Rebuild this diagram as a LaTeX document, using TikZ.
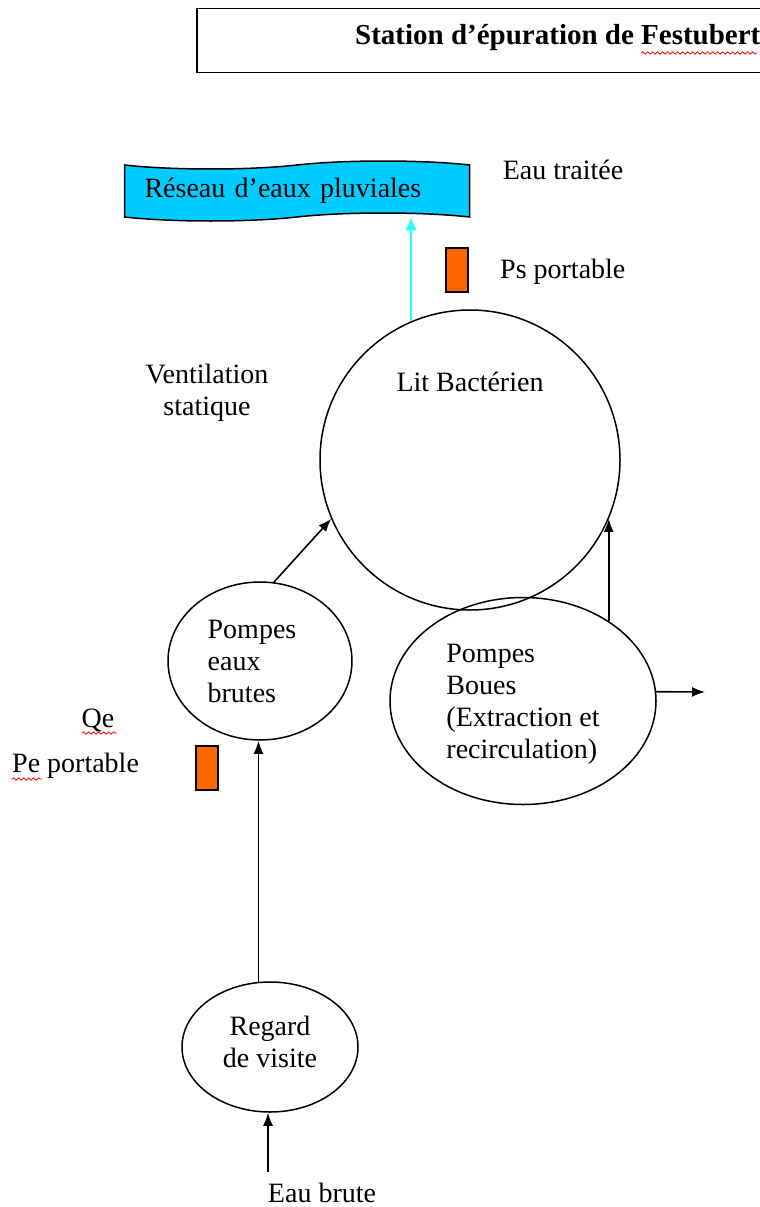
\documentclass[tikz,border=0pt]{standalone}
\usepackage{fontspec}
\setmainfont{Liberation Serif}
\usepackage{xcolor}
\usepackage{tikz}
\usetikzlibrary{arrows.meta, positioning, shapes.geometric, shapes.symbols, decorations.pathmorphing}
\definecolor{pluvial}{RGB}{0,204,255}
\definecolor{outflow}{RGB}{40,255,255}
\definecolor{sensor}{RGB}{255,102,0}

\begin{document}
\begin{tikzpicture}[x=1pt, y=-1pt,
  every node/.style={font=\fontsize{28}{32}\selectfont},
  every label/.style={font=\fontsize{28}{32}\selectfont, align=left, inner sep=0pt},
  flow/.style={-{Latex[length=13pt,width=10pt]}, line width=1.6pt},
  basin/.style={draw, ellipse, line width=1.5pt, inner sep=0pt, align=left},
  probe/.style={draw, fill=sensor, line width=1.5pt, minimum width=22pt, minimum height=44pt, inner sep=0pt},
  spell/.style={red, line width=0.8pt, decorate, decoration={snake, amplitude=1.2pt, segment length=5pt}}]
\clip (0,0) rectangle (760,1207);

% title
\draw (196,8) node[draw, line width=1.5pt, anchor=north west, minimum width=580pt, minimum height=64pt] (frame) {};
\draw (355,38) node[anchor=west, inner xsep=0pt, font=\fontsize{29}{32}\selectfont\bfseries] (title) {Station d’épuration de Festubert};
\draw[spell] (641,53) -- (757,53);

% rain water network
\draw (297,191) node[tape, draw, fill=pluvial, line width=1.5pt, minimum width=345pt, minimum height=60pt, tape bend height=8pt, text width=305pt, inner xsep=20pt, align=left] (reseau) {Réseau d’eaux pluviales};
\draw (563,170) node (traitee) {Eau traitée};
\draw (457,270) node[probe] (ps) {};
\draw (500,272) node[anchor=west, inner xsep=0pt] (pslabel) {Ps portable};

% biological filter
\draw (470,460) node[draw, circle, line width=1.5pt, minimum size=300pt] (lit) {};
\node[below=59pt of lit.north] (litlabel) {Lit Bactérien};
\draw (207,393) node[align=center] (ventil) {Ventilation\\statique};

% pumps
\draw (260,661) node[basin, minimum width=184pt, minimum height=158pt,
  label={[xshift=-8pt]center:Pompes\\eaux\\brutes}] (pompes) {};
\draw (523,701) node[basin, minimum width=266pt, minimum height=207pt,
  label={[yshift=-3pt]center:Pompes\\Boues\\(Extraction et\\recirculation)}] (boues) {};
\draw (98,720) node (qe) {Qe};
\draw[spell] (82,733) -- (117,733);
\draw (12,766) node[anchor=west, inner xsep=0pt] (pelabel) {Pe portable};
\draw[spell] (12,779) -- (42,779);
\draw (207,768) node[probe] (pe) {};

% manhole
\draw (270,1047) node[basin, minimum width=176pt, minimum height=130pt,
  label={[yshift=5pt, align=center]center:Regard\\de visite}] (regard) {};
\draw (322,1193) node[inner sep=0pt] (brute) {Eau brute};

% flows
\coordinate (sludge) at (705,692);
\coordinate (inlet) at (268,1172);
\draw[flow, outflow, line width=2.6pt, -{Latex[length=13pt,width=12pt]}] (lit.113) -- (lit.113 |- reseau.south);
\draw[flow] (pompes.80) -- (lit.203);
\draw[flow] (boues.43) -- (boues.43 |- lit.337);
\draw[flow] (boues.4) -- (sludge);
\draw[flow] (regard.100) -- (regard.100 |- pompes.south);
\draw[flow] (inlet) -- (inlet |- regard.south);
\end{tikzpicture}
\end{document}
